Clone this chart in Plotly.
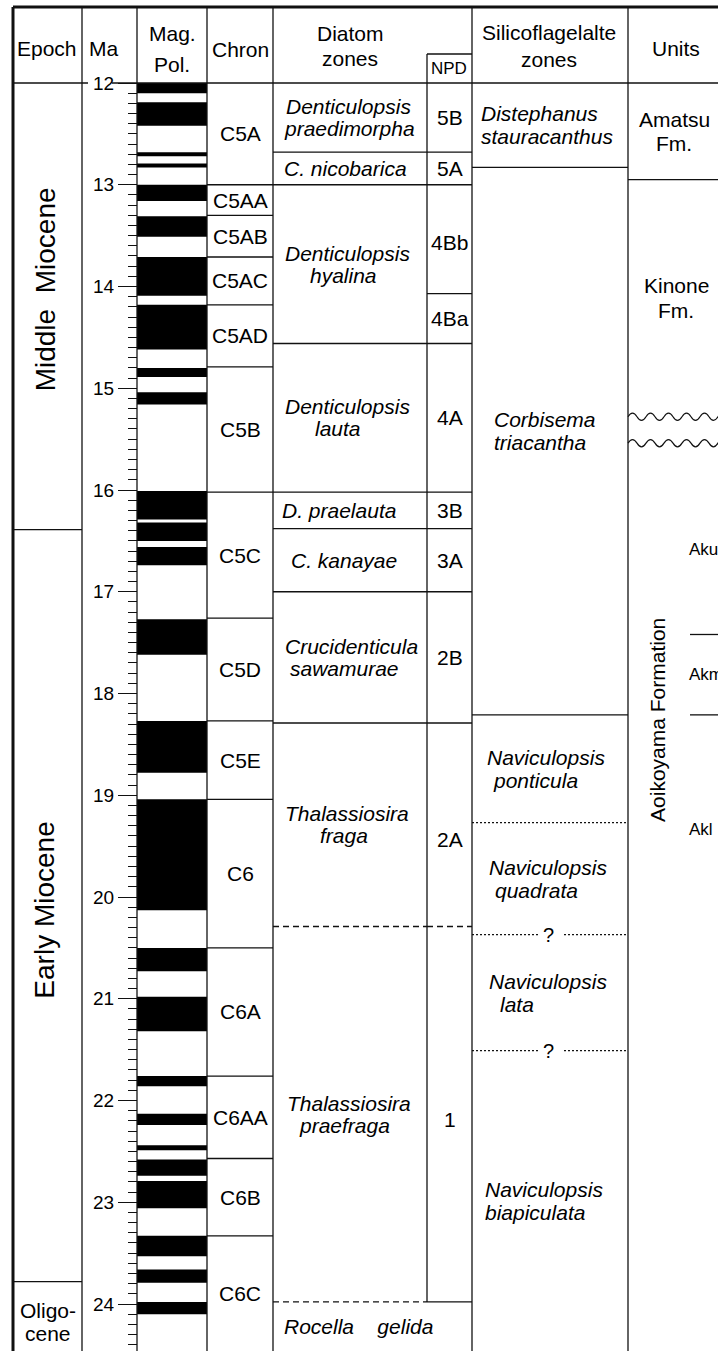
import numpy as np
import plotly.graph_objects as go

# ======================= DATA =======================
# Epochs (Ma)
epoch_names = ["Middle\u00a0\u00a0Miocene", "Early\u00a0Miocene", "Oligo-\ncene"]
epoch_bounds = [12.0, 16.39, 23.78, 24.46]

# Age axis (Ma)
ma_major = list(range(12, 25))

# Magnetic polarity: normal (black) intervals, top and base ages (Ma)
normal_top = [12.00, 12.19, 12.68, 12.79, 13.00, 13.31, 13.71, 14.18, 14.80, 15.04,
              16.01, 16.32, 16.56, 17.27, 18.27, 19.04, 20.50, 20.98, 21.76, 22.13,
              22.44, 22.58, 22.79, 23.33, 23.66, 23.98]
normal_base = [12.10, 12.42, 12.72, 12.83, 13.16, 13.51, 14.09, 14.62, 14.89, 15.16,
               16.29, 16.50, 16.74, 17.62, 18.78, 20.13, 20.73, 21.32, 21.86, 22.24,
               22.49, 22.74, 23.06, 23.53, 23.79, 24.10]

# Chrons
chron_names = ["C5A", "C5AA", "C5AB", "C5AC", "C5AD", "C5B", "C5C", "C5D", "C5E",
               "C6", "C6A", "C6AA", "C6B", "C6C"]
chron_bounds = [12.0, 13.0, 13.30, 13.71, 14.18, 14.79, 16.02, 17.26, 18.27, 19.04,
                20.50, 21.76, 22.57, 23.33, 24.46]

# Diatom zones
diatom_zones = ["Denticulopsis\npraedimorpha", "C. nicobarica", "Denticulopsis\nhyalina",
                "Denticulopsis\nlauta", "D. praelauta", "C. kanayae",
                "Crucidenticula\nsawamurae", "Thalassiosira\nfraga",
                "Thalassiosira\npraefraga", "Rocella\u00a0\u00a0\u00a0\u00a0gelida"]
diatom_bounds = [12.0, 12.68, 13.0, 14.56, 16.02, 16.38, 17.0, 18.29, 20.29, 23.98, 24.46]
diatom_base_kind = ["solid", "solid", "solid", "solid", "solid", "solid", "solid",
                    "dash", "dash", None]

# NPD codes
npd_zones = ["5B", "5A", "4Bb", "4Ba", "4A", "3B", "3A", "2B", "2A", "1"]
npd_bounds = [12.0, 12.68, 13.0, 14.07, 14.56, 16.02, 16.38, 17.0, 18.29, 20.29, 23.98]
npd_base_kind = ["solid", "solid", "solid", "solid", "solid", "solid", "solid", "solid",
                 "dash", "solid"]

# Silicoflagellate zones
silico_zones = ["Distephanus\nstauracanthus", "Corbisema\ntriacantha",
                "Naviculopsis\nponticula", "Naviculopsis\nquadrata",
                "Naviculopsis\nlata", "Naviculopsis\nbiapiculata"]
silico_bounds = [12.0, 12.83, 18.21, 19.27, 20.37, 21.51, 24.46]
silico_base_kind = ["solid", "solid", "dot", "dot?", "dot?", None]

# Lithostratigraphic units
formation_names = ["Amatsu\nFm.", "Kinone\nFm.", "Aoikoyama Formation"]
formation_top = [12.0, 12.95, 15.54]
formation_base = [12.95, 15.28, 20.98]
unconformities = [15.28, 15.54]
member_names = ["Aku", "Akm", "Akl"]
member_top = [15.54, 17.42, 18.21]
member_base = [17.42, 18.21, 20.47]

# ======================= LAYOUT / STYLE =======================
W, H = 718, 1351
PX_PER_MA = 101.75
Y12_PX = 83
Y_RANGE = [12 + (H - Y12_PX) / PX_PER_MA, 12 - Y12_PX / PX_PER_MA]


def hy(py):
    """header pixel row -> axis value"""
    return 12 + (py - Y12_PX) / PX_PER_MA


FONT = "Liberation Sans, Arial, Helvetica, sans-serif"
LC = "#111111"
LW = 1.3

# column edges (x in pixel units of the x axis)
X_L, X_EP, X_MA, X_MAG, X_CH, X_DI, X_NPD, X_SI, X_R = 13, 82, 137, 207, 273, 427, 472, 628, 718

shapes = []
annotations = []


def hline(y, x0, x1, dash="solid", width=LW):
    shapes.append(dict(type="line", xref="x", yref="y", x0=x0, x1=x1, y0=y, y1=y,
                       line=dict(color=LC, width=width, dash=dash)))


def vline(x, y0, y1, width=LW):
    shapes.append(dict(type="line", xref="x", yref="y", x0=x, x1=x, y0=y0, y1=y1,
                       line=dict(color=LC, width=width)))


def add_text(x, y, text, size=21, italic=False, xanchor="center", indents=None,
             line_px=23, up_px=0, angle=0):
    lines = text.split("\n")
    n = len(lines)
    for i, ln in enumerate(lines):
        t = "<i>%s</i>" % ln if italic else ln
        xs = indents[i] if indents else 0
        ys = up_px + ((n - 1) / 2 - i) * line_px
        annotations.append(dict(x=x, y=y, xref="x", yref="y", text=t, showarrow=False,
                                xanchor=xanchor, yanchor="middle", xshift=xs, yshift=ys,
                                textangle=angle,
                                font=dict(family=FONT, size=size, color="black")))


def mids(bounds):
    return [(a + b) / 2 for a, b in zip(bounds[:-1], bounds[1:])]


fig = go.Figure()

# ---- magnetic polarity bars ----
fig.add_trace(go.Bar(
    x=[(X_MA + X_MAG) / 2] * len(normal_top),
    y=[b - t for t, b in zip(normal_top, normal_base)],
    base=normal_top,
    width=X_MAG - X_MA,
    marker=dict(color="black", line=dict(width=0)),
    hoverinfo="skip", showlegend=False,
))

y_top = hy(7)
y_bot = Y_RANGE[0]

# ---- frame ----
shapes.append(dict(type="line", xref="x", yref="y", x0=X_L, x1=X_R, y0=y_top, y1=y_top,
                   line=dict(color=LC, width=3)))
shapes.append(dict(type="line", xref="x", yref="y", x0=X_L, x1=X_L, y0=y_top, y1=y_bot,
                   line=dict(color=LC, width=3)))
for xv in [X_EP, X_MA, X_MAG, X_CH, X_SI]:
    vline(xv, y_top, y_bot)
vline(X_NPD, y_top, y_bot)
vline(X_DI, hy(54), npd_bounds[-1])
hline(hy(54), X_DI, X_NPD)
# header base line (interrupted by the "12" label)
hline(12.0, X_L, 88)
hline(12.0, 112, X_R)

# ---- header text ----
add_text(47, hy(48), "Epoch")
add_text(103, hy(48), "Ma")
add_text(172, hy(49), "Mag.\nPol.", line_px=31)
add_text(240, hy(49), "Chron")
add_text(350, hy(46), "Diatom\nzones", line_px=25)
add_text(449, hy(68), "NPD", size=17)
add_text(549, hy(46), "Silicoflagelalte\nzones", line_px=27)
add_text(676, hy(48), "Units")

# ---- epochs ----
for b in epoch_bounds[1:-1]:
    hline(b, X_L, X_EP)
ep_mid = mids(epoch_bounds)
add_text(45, ep_mid[0], epoch_names[0], size=28, angle=-90, up_px=17)
add_text(45, ep_mid[1], epoch_names[1], size=28, angle=-90, up_px=-5)
add_text(48, ep_mid[2], epoch_names[2], size=21, line_px=23, up_px=-6)

# ---- chrons ----
for b in chron_bounds[1:-1]:
    hline(b, X_MAG, X_CH)
for name, m in zip(chron_names, mids(chron_bounds)):
    add_text(240, m, name)

# ---- diatom zones ----
for b, kind in zip(diatom_bounds[1:], diatom_base_kind):
    if kind == "solid":
        hline(b, X_CH, X_DI)
    elif kind == "dash":
        hline(b, X_CH, X_DI, dash="6px,4px")
diatom_indent = {
    "Denticulopsis\npraedimorpha": [2, 0],
    "Denticulopsis\nhyalina": [1, 26],
    "Denticulopsis\nlauta": [1, 31],
    "D. praelauta": [-2],
    "C. kanayae": [7],
    "Crucidenticula\nsawamurae": [1, 6],
    "Thalassiosira\nfraga": [1, 36],
    "Thalassiosira\npraefraga": [3, 15],
}
for name, m in zip(diatom_zones, mids(diatom_bounds)):
    add_text(282, m, name, italic=True, xanchor="left",
             indents=diatom_indent.get(name), line_px=22)

# ---- NPD ----
for b, kind in zip(npd_bounds[1:], npd_base_kind):
    if kind == "solid":
        hline(b, X_DI, X_NPD)
    else:
        hline(b, X_DI, X_NPD, dash="6px,4px")
npd_up = {"2A": -15, "1": -5, "4Bb": -3}
for name, m in zip(npd_zones, mids(npd_bounds)):
    add_text(449.5, m, name, up_px=npd_up.get(name, 0))

# ---- silicoflagellate zones ----
for b, kind in zip(silico_bounds[1:], silico_base_kind):
    if kind == "solid":
        hline(b, X_NPD, X_SI)
    elif kind == "dot":
        hline(b, X_NPD, X_SI, dash="2px,2px")
    elif kind == "dot?":
        hline(b, X_NPD, 539, dash="2px,2px")
        hline(b, 564, X_SI, dash="2px,2px")
        add_text(548, b, "?", size=20)
silico_indent = {
    "Distephanus\nstauracanthus": [0, 0],
    "Corbisema\ntriacantha": [13, 13],
    "Naviculopsis\nponticula": [6, 12],
    "Naviculopsis\nquadrata": [8, 14],
    "Naviculopsis\nlata": [8, 19],
    "Naviculopsis\nbiapiculata": [4, 4],
}
silico_up = {"Corbisema\ntriacantha": 10}
for name, m in zip(silico_zones, mids(silico_bounds)):
    add_text(479, m, name, italic=True, xanchor="left", indents=silico_indent.get(name),
             line_px=23, up_px=silico_up.get(name, 0))

# ---- units ----
hline(formation_base[0], X_SI, X_R)
add_text(674, (formation_top[0] + formation_base[0]) / 2, formation_names[0], line_px=24)
add_text(676, (formation_top[1] + formation_base[1]) / 2, formation_names[1], line_px=25)
add_text(658, (formation_top[2] + formation_base[2]) / 2, formation_names[2], angle=-90)

# unconformities (wavy lines)
AMP = 3.6 / PX_PER_MA
HALF = 9.0
for u in unconformities:
    xs = X_SI
    path = "M %.2f,%.5f" % (xs, u)
    k = 0
    while xs < X_R + HALF:
        xc = xs + HALF / 2
        xe = xs + HALF
        yc = u - 2 * AMP if k % 2 == 0 else u + 2 * AMP
        path += " Q %.2f,%.5f %.2f,%.5f" % (xc, yc, xe, u)
        xs = xe
        k += 1
    shapes.append(dict(type="path", xref="x", yref="y", path=path,
                       line=dict(color=LC, width=1.2)))

for b in member_base[:-1]:
    hline(b, 690, X_R)
mem_up = {"Aku": -11}
for name, t, b in zip(member_names, member_top, member_base):
    add_text(687, (t + b) / 2, name, size=17, xanchor="left", up_px=mem_up.get(name, 0))

# ---- axes ----
minor_vals = [round(v, 1) for v in np.arange(12.1, 24.45, 0.1) if abs(v - round(v)) > 0.01]

fig.update_layout(
    width=W, height=H,
    margin=dict(l=0, r=0, t=0, b=0),
    paper_bgcolor="white", plot_bgcolor="white",
    barmode="overlay",
    showlegend=False,
    xaxis=dict(range=[0, W], visible=False, fixedrange=True),
    yaxis=dict(
        range=Y_RANGE, anchor="free", position=X_MA / W, side="left",
        ticks="outside", ticklen=19, tickwidth=LW, tickcolor=LC,
        tickmode="array", tickvals=ma_major, ticktext=[str(v) for v in ma_major],
        tickfont=dict(family=FONT, size=19, color="black"),
        showgrid=False, zeroline=False, showline=False, fixedrange=True,
        minor=dict(ticks="outside", ticklen=9, tickwidth=LW, tickcolor=LC,
                   tickmode="array", tickvals=minor_vals, showgrid=False),
    ),
    shapes=shapes,
    annotations=annotations,
)

fig.write_html("out.html")
